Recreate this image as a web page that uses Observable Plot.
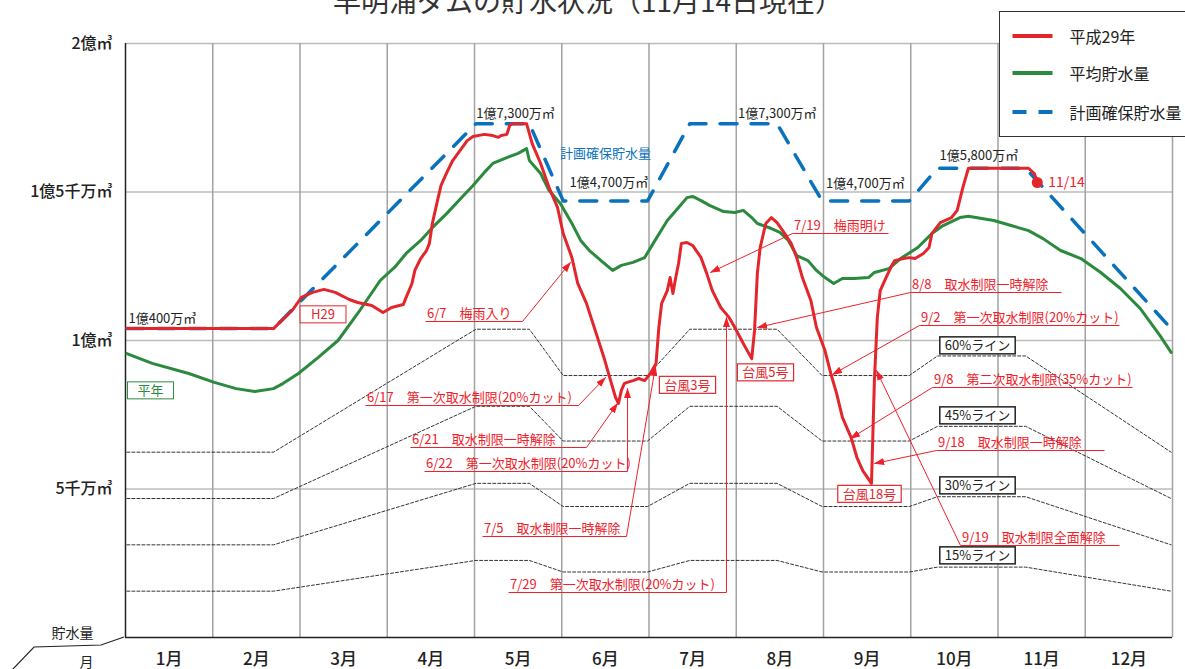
<!DOCTYPE html>
<html><head><meta charset="utf-8">
<script src="https://cdn.jsdelivr.net/npm/d3@7"></script>
<script src="https://cdn.jsdelivr.net/npm/@observablehq/plot@0.6"></script>
<style>
html,body{margin:0;padding:0;background:#fff;overflow:hidden;}
body{width:1185px;height:669px;position:relative;font-family:"Noto Sans CJK JP","Noto Sans",sans-serif;}
#title{position:absolute;left:0;width:1176px;text-align:center;top:-20.5px;font-size:28px;color:#333;white-space:nowrap;z-index:3;}
#legend{position:absolute;left:999px;top:11px;width:200px;height:126px;border:1.5px solid #333;background:#fff;z-index:3;box-sizing:border-box;}
.item{position:absolute;left:11.5px;height:20px;font-size:16px;color:#222;display:flex;align-items:center;white-space:nowrap;}
.item svg{margin-right:17px;}
#chart{position:absolute;left:0;top:0;}
</style></head><body>
<div id="title">早明浦ダムの貯水状況（11月14日現在）</div>
<div id="chart"></div>
<div id="legend"></div>
<script>
// ---------------- data (万㎥) ----------------
const months = ["1月","2月","3月","4月","5月","6月","7月","8月","9月","10月","11月","12月"];
const yTicks = [5000, 10000, 15000, 20000];
const yLabels = ["5千万㎥", "1億㎥", "1億5千万㎥", "2億㎥"];

// 平成29年
const redDates = [
 "1/1","2/20","2/22","2/26","3/1","3/5","3/9","3/13","3/18","3/21",
 "3/26","3/30","4/2","4/6","4/7","4/9","4/10","4/12","4/14","4/15",
 "4/16","4/18","4/19","4/21","4/23","4/26","4/28","4/30","5/4","5/7",
 "5/9","5/10","5/12","5/13","5/14","5/19","5/21","5/24","5/27","5/30",
 "6/1","6/4","6/6","6/9","6/12","6/15","6/17","6/19","6/20","6/21",
 "6/22","6/23","6/25","6/27","6/29","7/1","7/3","7/4","7/5","7/7",
 "7/8","7/9","7/10","7/11","7/12","7/14","7/16","7/19","7/21","7/23",
 "7/26","7/29","7/31","8/3","8/6","8/7","8/8","8/9","8/11","8/13",
 "8/15","8/17","8/20","8/22","8/24","8/27","8/29","9/1","9/3","9/5",
 "9/7","9/10","9/12","9/14","9/17","9/18","9/19","9/20","9/22","9/24",
 "9/25","9/28","9/30","10/2","10/5","10/7","10/8","10/11","10/15","10/17",
 "10/19","10/21","11/11","11/13","11/14"];
const redValues = [
 10400,10400,10610,11010,11450,11620,11720,11620,11380,11280,
 11180,10940,11110,11210,11450,11920,12360,12760,13030,13270,
 13940,14810,15220,15660,16060,16460,16730,16870,16940,16900,
 16840,16900,16940,17240,17300,17300,16630,15960,15150,14480,
 13600,12790,11920,11250,10340,9430,8750,8080,7880,8320,
 8550,8590,8650,8720,8650,8890,9230,10440,11250,11680,
 12120,11580,12120,12590,13270,13300,13200,12790,12260,11680,
 11110,10770,10440,9900,9390,10340,12260,13130,13940,14140,
 13970,13700,13270,12790,12120,11350,10440,9660,8890,8220,
 7410,6730,6060,5620,5190,8650,10770,11680,12120,12530,
 12690,12760,12790,12760,12930,13130,13600,13970,14140,14380,
 15150,15800,15800,15620,15320];

// 平均貯水量
const greenDates = [
 "1/1","1/10","1/23","2/1","2/8","2/14","2/20","2/23","2/28","3/7",
 "3/14","3/21","3/29","4/3","4/7","4/12","4/16","4/21","4/26","4/30",
 "5/4","5/7","5/12","5/16","5/19","5/20","5/24","5/27","5/31","6/4",
 "6/7","6/10","6/14","6/18","6/21","6/25","6/29","7/2","7/7","7/11",
 "7/14","7/16","7/19","7/22","7/27","7/31","8/3","8/6","8/8","8/13",
 "8/16","8/19","8/22","8/26","8/29","9/1","9/4","9/7","9/11","9/16",
 "9/18","9/23","9/27","10/3","10/8","10/12","10/18","10/21","10/30","11/5",
 "11/11","11/16","11/22","11/29","12/6","12/13","12/20","12/27","12/31"];
const greenValues = [
 9560,9230,8890,8590,8380,8280,8380,8550,8890,9430,
 10000,10910,12020,12460,12930,13370,13800,14280,14810,15220,
 15660,15960,16160,16300,16460,16060,15620,15050,14610,13940,
 13370,13030,12690,12360,12530,12630,12790,13270,14040,14480,
 14810,14850,14710,14550,14340,14310,14380,14140,13940,13770,
 13640,13370,12860,12690,12360,12120,11920,12090,12090,12120,
 12290,12420,12760,13130,13600,13870,14140,14180,14040,13870,
 13700,13430,13030,12760,12290,11750,11080,10170,9600];

// 計画確保貯水量 and % lines
const planDates  = ["1/1","2/20","5/1","5/20","6/1","6/30","7/15","8/15","8/31","9/30","10/10","11/10","12/31"];
const planValues = [10400,10400,17300,17300,14700,14700,17300,17300,14700,14700,15800,15800,10400];
const pct60 = [6240,6240,10380,10380,8820,8820,10380,10380,8820,8820,9480,9480,6240];
const pct45 = [4680,4680,7785,7785,6615,6615,7785,7785,6615,6615,7110,7110,4680];
const pct30 = [3120,3120,5190,5190,4410,4410,5190,5190,4410,4410,4740,4740,3120];
const pct15 = [1560,1560,2595,2595,2205,2205,2595,2595,2205,2205,2370,2370,1560];

// current point
const nowDate = "11/14", nowValue = 15320, nowLabel = "11/14";

// value labels
const valText = ["1億400万㎥","1億7,300万㎥","1億7,300万㎥","1億4,700万㎥","1億4,700万㎥","1億5,800万㎥","計画確保貯水量"];
const valX = [0.034, 4.47, 7.47, 5.54, 8.48, 9.78, 5.50];
const valY = [10741, 17643, 17643, 15320, 15286, 16229, 16296];
const valAnchor = ["start","middle","middle","middle","middle","middle","middle"];
const valColor = ["#222","#222","#222","#222","#222","#222","#0a72bd"];

// annotations (underline start/end, underline level, arrow tip)
const annText = ["6/7　梅雨入り","6/17　第一次取水制限(20%カット)","6/21　取水制限一時解除","6/22　第一次取水制限(20%カット)","7/5　取水制限一時解除","7/29　第一次取水制限(20%カット)","7/19　梅雨明け","8/8　取水制限一時解除","9/2　第一次取水制限(20%カット)","9/8　第二次取水制限(35%カット)","9/18　取水制限一時解除","9/19　取水制限全面解除"];
const annX0 = [3.438, 2.751, 3.266, 3.427, 4.092, 4.390, 7.645, 8.997, 9.100, 9.249, 9.295, 9.570];
const annX1 = [4.550, 5.192, 5.284, 5.754, 5.742, 6.888, 8.745, 10.728, 11.393, 11.542, 11.221, 11.393];
const annY  = [10640, 7811, 6397, 5589, 3401, 1515, 13603, 11616, 10505, 8418, 6296, 3098];
const annSide = ["end","end","end","end","end","end","start","start","start","start","start","start"];
const annTipX = [5.100, 5.501, 5.639, 5.754, 6.074, 6.888, 6.705, 7.244, 8.103, 8.309, 8.585, 8.607];
const annTipY = [12626, 8754, 7879, 8384, 9125, 10774, 12290, 10438, 8855, 6700, 5859, 8990];

// boxed labels
const boxText = ["H29","平年","台風3号","台風5号","台風18号","60%ライン","45%ライン","30%ライン","15%ライン"];
const boxX = [2.264, 0.287, 6.441, 7.335, 8.527, 9.765, 9.765, 9.765, 9.765];
const boxY = [10859, 8300, 8485, 8906, 4815, 9815, 7458, 5101, 2744];

// legend
const legendLabels = ["平成29年","平均貯水量","計画確保貯水量"];

// ---------------- styles ----------------
const RED = "#e3262c", GREEN = "#2b8a3e", BLUE = "#0a72bd", ANN = "#f0202a", INK = "#222";
const boxColor = [RED, GREEN, RED, RED, RED, INK, INK, INK, INK];
const boxPad = [11, 10, 5, 5, 5, 5, 5, 5, 5];
const boxStroke = [1, 1, 1.2, 1.2, 1.2, 1.5, 1.5, 1.5, 1.5];

// ---------------- helpers ----------------
const dim = [31,28,31,30,31,30,31,31,30,31,30,31];
const pos = s => { const [m, d] = s.split("/").map(Number); return (m - 1) + (d - 0.5) / dim[m - 1]; };
const zip = (ds, vs) => ds.map((d, i) => ({x: pos(d), y: vs[i]}));

const ann = annText.map((t, i) => ({t, x0: annX0[i], x1: annX1[i], y: annY[i],
  sx: annSide[i] === "end" ? annX1[i] : annX0[i], tx: annTipX[i], ty: annTipY[i]}));
const boxes = boxText.map((t, i) => ({t, x: boxX[i], y: boxY[i], c: boxColor[i]}));
const vals = valText.map((t, i) => ({t, x: valX[i], y: valY[i], a: valAnchor[i], c: valColor[i]}));

const FONT = "'Noto Sans CJK JP','Noto Sans',sans-serif";

const plot = Plot.plot({
  width: 1185, height: 669,
  marginLeft: 125, marginRight: 13, marginTop: 43, marginBottom: 32,
  x: {domain: [0, 12], axis: null},
  y: {domain: [0, 20000], axis: null},
  color: {type: "identity"},
  style: {fontFamily: FONT, background: "transparent", overflow: "visible"},
  marks: [
    Plot.ruleY(yTicks, {y: d => d, stroke: "#bcbcbc", strokeWidth: 1.5}),
    Plot.ruleX(d3.range(1, 13), {x: d => d, stroke: "#a2a2a2", strokeWidth: 1.5}),
    Plot.ruleX([0], {x: d => d, stroke: INK, strokeWidth: 1.5}),
    Plot.ruleY([0], {y: d => d, stroke: INK, strokeWidth: 1.5}),
    ...[pct60, pct45, pct30, pct15].map(v => Plot.line(zip(planDates, v), {x: "x", y: "y", stroke: "#333", strokeWidth: 1, strokeDasharray: "3,2"})),
    Plot.line(zip(planDates, planValues), {x: "x", y: "y", stroke: BLUE, strokeWidth: 3.5, strokeDasharray: "17,14", strokeLinecap: "round"}),
    Plot.line(zip(greenDates, greenValues), {x: "x", y: "y", stroke: GREEN, strokeWidth: 3, strokeLinejoin: "round"}),
    Plot.line(zip(redDates, redValues), {x: "x", y: "y", stroke: RED, strokeWidth: 3, strokeLinejoin: "round"}),
    // annotations
    Plot.link(ann, {x1: "x0", x2: "x1", y1: "y", y2: "y", stroke: ANN, strokeWidth: 1}),
    Plot.link(ann, {x1: "sx", y1: "y", x2: "tx", y2: "ty", stroke: ANN, strokeWidth: 1, className: "lead"}),
    Plot.text(ann, {x: "x0", y: "y", text: "t", textAnchor: "start", dx: 1.5, dy: -8, fill: ANN, fontSize: 13}),
    // boxed labels
    Plot.text(boxes, {x: "x", y: "y", text: "t", fill: "c", fontSize: 13, className: "boxlab"}),
    // value labels
    Plot.text(vals.filter(d => d.a === "start"), {x: "x", y: "y", text: "t", fill: "c", textAnchor: "start", fontSize: 13}),
    Plot.text(vals.filter(d => d.a === "middle"), {x: "x", y: "y", text: "t", fill: "c", fontSize: 13}),
    // current point
    Plot.dot([{x: pos(nowDate), y: nowValue}], {x: "x", y: "y", r: 5.5, fill: RED}),
    Plot.text([{x: pos(nowDate), y: nowValue, t: nowLabel}], {x: "x", y: "y", text: "t", dx: 11, textAnchor: "start", fill: ANN, fontSize: 14}),
    // axis labels
    Plot.text(yTicks, {x: () => 0, y: d => d, text: (d, i) => yLabels[i], textAnchor: "end", dx: -13, fontSize: 16, fill: INK, fontWeight: 500}),
    Plot.text(months, {x: (d, i) => i + 0.5, y: () => 0, text: d => d, dy: 22, fontSize: 17, fill: INK, fontWeight: 500}),
    Plot.text(["貯水量"], {x: () => 0, y: () => 0, text: d => d, dx: -53, dy: -4, fontSize: 14, fill: INK}),
    Plot.text(["月"], {x: () => 0, y: () => 0, text: d => d, dx: -39, dy: 25, fontSize: 14, fill: INK})
  ]
});

document.getElementById("chart").appendChild(plot);

// ---------- post: arrowheads, label boxes, corner decoration ----------
const svg = plot;
const ns = "http://www.w3.org/2000/svg";
const sel = d3.select(svg);
const defs = sel.insert("defs", ":first-child");
defs.append("marker").attr("id", "tri").attr("viewBox", "0 0 12 8").attr("refX", 11).attr("refY", 4)
  .attr("markerWidth", 10.5).attr("markerHeight", 7).attr("markerUnits", "userSpaceOnUse").attr("orient", "auto")
  .append("path").attr("d", "M0,0L12,4L0,8z").attr("fill", ANN);
sel.selectAll("g.lead path").attr("marker-end", "url(#tri)");

const svgR = svg.getBoundingClientRect();
sel.selectAll("g.boxlab text").each(function(_, i) {
  const r = this.getBoundingClientRect();
  const cx = (r.left + r.right) / 2 - svgR.left;
  const cy = (r.top + r.bottom) / 2 - svgR.top + 0.7;
  const w = r.width + 2 * boxPad[i], h = 17;
  const rect = document.createElementNS(ns, "rect");
  rect.setAttribute("x", cx - w / 2); rect.setAttribute("y", cy - h / 2);
  rect.setAttribute("width", w); rect.setAttribute("height", h);
  rect.setAttribute("fill", "#fff"); rect.setAttribute("stroke", boxColor[i]);
  rect.setAttribute("stroke-width", boxStroke[i]);
  this.parentNode.parentNode.insertBefore(rect, this.parentNode);
});

const X = plot.scale("x"), Y = plot.scale("y");
const cx0 = X.apply(0), cy0 = Y.apply(0);
sel.append("path")
  .attr("d", `M${cx0 - 1},${cy0} L${cx0 - 24},${cy0 + 8} L${cx0 - 91},${cy0 + 10} L${cx0 - 113},${cy0 + 33}`)
  .attr("fill", "none").attr("stroke", INK).attr("stroke-width", 1.2);

// legend
const legendColors = [RED, GREEN, BLUE];
const legendDash = [null, null, "14,12"];
const legendTops = [13.5, 50.5, 89.5];
const lg = document.getElementById("legend");
legendLabels.forEach((t, i) => {
  const it = document.createElement("div");
  it.className = "item";
  it.style.top = legendTops[i] + "px";
  it.innerHTML = `<svg width="41" height="10"><line x1="0.5" y1="5" x2="40.5" y2="5" stroke="${legendColors[i]}" stroke-width="4" ${legendDash[i] ? `stroke-dasharray="${legendDash[i]}"` : ""}/></svg><span>${t}</span>`;
  lg.appendChild(it);
});
</script>
</body></html>
